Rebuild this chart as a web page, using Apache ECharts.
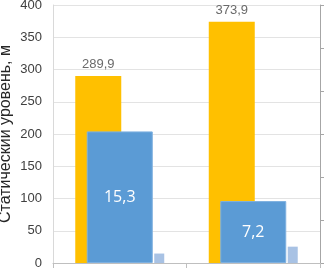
<!DOCTYPE html>
<html>
<head>
<meta charset="utf-8">
<script src="https://cdn.jsdelivr.net/npm/echarts@6/dist/echarts.min.js"></script>
<style>html,body{margin:0;padding:0;background:#fff}#c{width:324px;height:269px}</style>
</head>
<body>
<div id="c"></div>
<script>
var categories = ['A', 'B'];
var staticLevel = [289.9, 373.9];
var blueValues = [15.3, 7.2];
var lightValues = [1.1, 1.9];
var leftTicks = [0, 50, 100, 150, 200, 250, 300, 350, 400];

var chart = echarts.init(document.getElementById('c'));
chart.setOption({
  animation: false,
  grid: { left: 53, right: 4, top: 5, bottom: 6, containLabel: false, outerBoundsMode: 'none' },
  xAxis: [
    { type: 'category', data: categories,
      axisLine: { show: true, lineStyle: { color: '#BFBFBF', width: 1 } },
      axisTick: { show: true, length: 5, lineStyle: { color: '#BFBFBF' } },
      axisLabel: { show: false } },
    { type: 'category', data: categories, show: false }
  ],
  yAxis: [
    { type: 'value', min: leftTicks[0], max: leftTicks[leftTicks.length - 1], interval: 50,
      name: 'Статический уровень, м', nameLocation: 'middle', nameGap: 39, nameMoveOverlap: false,
      nameTextStyle: { fontFamily: 'Liberation Sans', fontSize: 16, color: '#262626' },
      axisLine: { show: true, lineStyle: { color: '#D9D9D9' } },
      axisTick: { show: false },
      axisLabel: { fontFamily: 'Liberation Sans', fontSize: 13, color: '#404040', margin: 11 },
      splitLine: { lineStyle: { color: '#E3E3E3' } } },
    { type: 'value', min: 0, max: 30, interval: 5, position: 'right',
      axisLine: { show: true, lineStyle: { color: '#A6A6A6' } },
      axisTick: { show: true, inside: false, length: 5, lineStyle: { color: '#A6A6A6' } },
      axisLabel: { show: false },
      splitLine: { show: false } }
  ],
  series: [
    { type: 'bar', xAxisIndex: 1, yAxisIndex: 0, data: staticLevel, barWidth: 46, barGap: '71.7%',
      itemStyle: { color: '#FFC000' },
      label: { show: true, position: 'top', distance: 5, fontFamily: 'Liberation Sans', fontSize: 13, color: '#6A6A6A',
        formatter: function (p) { return p.value.toFixed(1).replace('.', ','); } } },
    { type: 'bar', xAxisIndex: 1, yAxisIndex: 1, data: lightValues, barWidth: 10,
      itemStyle: { color: '#A8C2E4' } },
    { type: 'bar', xAxisIndex: 0, yAxisIndex: 1, data: blueValues, barWidth: 66,
      itemStyle: { color: '#5B9BD5', borderColor: '#7EB0E0', borderWidth: 1 },
      label: { show: true, position: 'inside', fontFamily: 'Open Sans', fontSize: 16, color: '#FFFFFF',
        formatter: function (p) { return p.value.toFixed(1).replace('.', ','); } } }
  ]
});
</script>
</body>
</html>
